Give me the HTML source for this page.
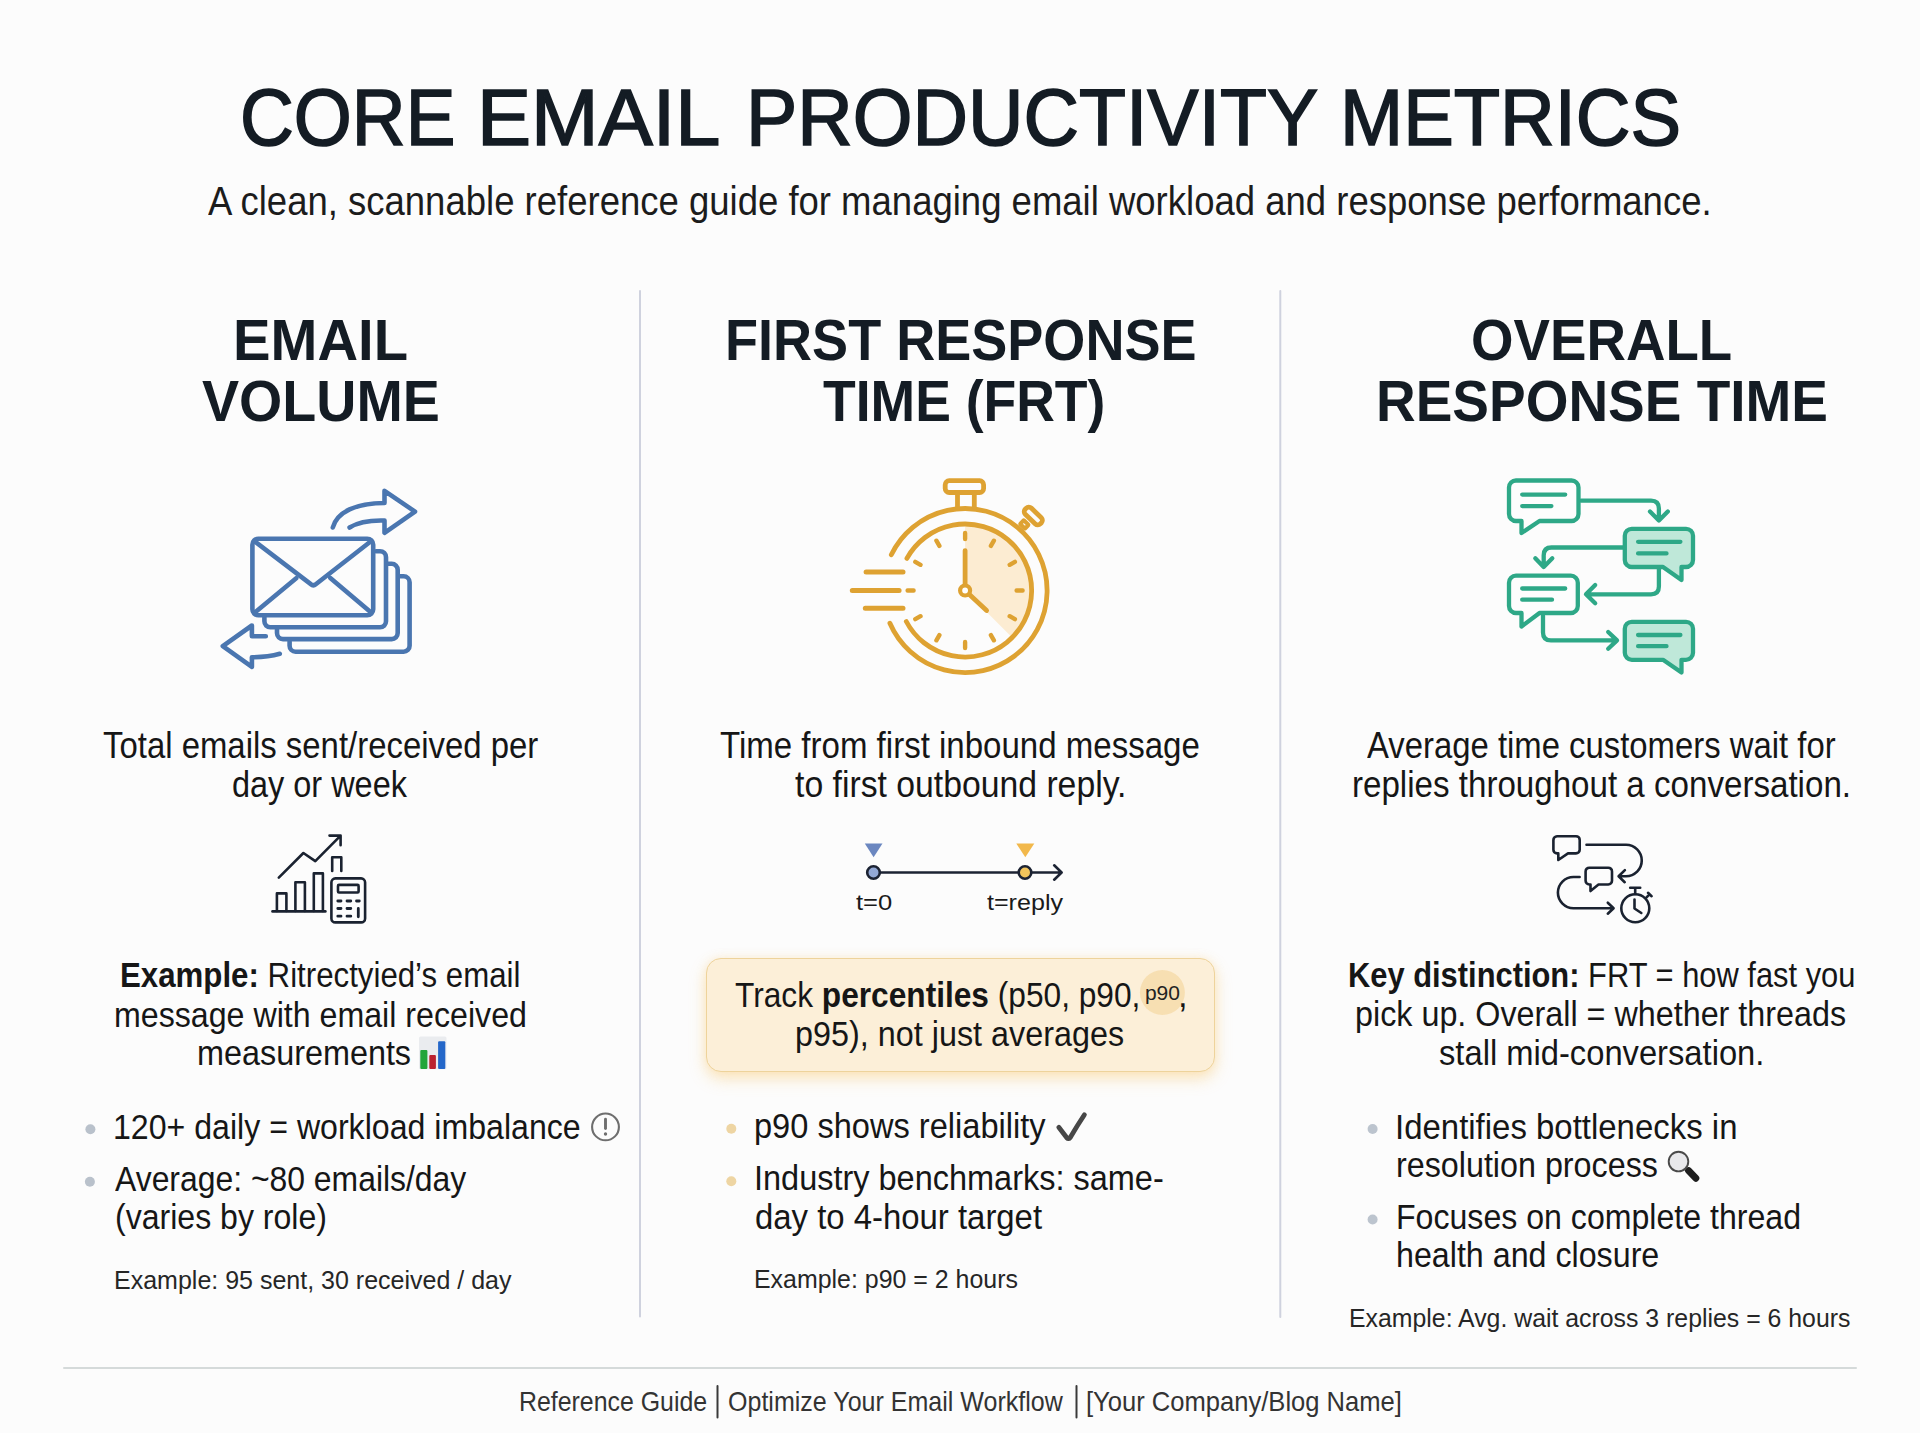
<!DOCTYPE html>
<html><head><meta charset="utf-8"><title>Core Email Productivity Metrics</title>
<style>
html,body{margin:0;padding:0;}
body{width:1920px;height:1433px;overflow:hidden;background:#fcfcfc;position:relative;font-family:"Liberation Sans",sans-serif;}
.t{position:absolute;white-space:nowrap;line-height:1;transform-origin:0 0;font-family:"Liberation Sans",sans-serif;}
.t b{font-weight:700;}
svg.ov{position:absolute;left:0;top:0;}
.box{position:absolute;left:705.5px;top:957.5px;width:509px;height:114px;box-sizing:border-box;border:1.6px solid #eed39b;border-radius:15px;background:#fcefd8;box-shadow:0 7px 16px rgba(250,200,110,0.42), 0 0 10px rgba(250,210,140,0.25);}
</style></head>
<body>
<div class="box"></div>
<svg class="ov" width="1920" height="1433" viewBox="0 0 1920 1433">
<!-- dividers -->
<g stroke-linecap="round">
<line x1="640" y1="291" x2="640" y2="1316.5" stroke="#cfd2de" stroke-width="2"/>
<line x1="1280.3" y1="291" x2="1280.3" y2="1317" stroke="#cfd2de" stroke-width="2"/>
<line x1="64" y1="1368" x2="1856" y2="1368" stroke="#d5dada" stroke-width="2"/>
<line x1="717.5" y1="1386" x2="717.5" y2="1417.5" stroke="#3a3a3a" stroke-width="2"/>
<line x1="1076.5" y1="1386" x2="1076.5" y2="1417.5" stroke="#3a3a3a" stroke-width="2"/>
</g>
<!-- email stack icon -->
<g fill="none" stroke="#4a76b0" stroke-width="4.6" stroke-linecap="round" stroke-linejoin="round">
<path d="M400.3,576.3 H403.6 A6,6 0 0 1 409.6,582.3 V645.7 A6,6 0 0 1 403.6,651.7 H295.6 A6,6 0 0 1 289.6,645.7 V641.5"/>
<path d="M388.3,563.8 H391.7 A6,6 0 0 1 397.7,569.8 V633.1 A6,6 0 0 1 391.7,639.1 H283 A6,6 0 0 1 277,633.1 V629.5"/>
<path d="M376,551.2 H380 A6,6 0 0 1 386,557.2 V621.3 A6,6 0 0 1 380,627.3 H270.4 A6,6 0 0 1 264.4,621.3 V617.5"/>
<rect x="252.4" y="538.7" width="120.8" height="76.6" rx="6" fill="#fcfcfc"/>
<path d="M255,541.5 L310.8,584.2 Q313.3,586.3 315.8,584.2 L370.6,541.5"/>
<path d="M255.5,612 L296.2,578.3 M370.5,612 L330.3,578"/>
<path d="M332.8,527.5 C337,512 356,503 384.5,503 V490.8 L415,511.6 L384.5,532.8 V520.5 C368,520 357.5,522.5 349.6,527.5"/>
<path d="M265.8,636.3 H251.9 V625.5 L222.8,646.1 L251.9,666.8 V657.3 C263,657.3 272,656 279.8,653.8"/>
</g>
<!-- stopwatch icon -->
<g fill="none" stroke="#dea232" stroke-width="4.8" stroke-linecap="round" stroke-linejoin="round">
<path d="M965.1,590.5 L965.1,524 A66.5,66.5 0 0 1 1012.1,637.5 Z" fill="#fcecd2" stroke="none"/>
<path d="M891.3,554.8 A82,82 0 1 1 889.9,623.2"/>
<path d="M906.9,558.4 A66.5,66.5 0 1 1 906.3,621.5"/>
<rect x="945.2" y="480.7" width="38.4" height="11.8" rx="4"/>
<path d="M957.5,494.5 V507.5 M974.3,494.5 V507.5"/>
<g transform="translate(1033.3,516) rotate(44)"><rect x="-10.5" y="-4.3" width="21" height="8.6" rx="3.5"/></g>
<g transform="translate(1024.3,524.4) rotate(44)"><rect x="-3.4" y="-2.6" width="6.8" height="5.2" rx="0.5" stroke-width="4"/></g>
<path d="M965.1,539.0 L965.1,533.0 M990.9,545.9 L993.9,540.7 M1009.7,564.8 L1014.9,561.8 M1016.6,590.5 L1022.6,590.5 M1009.7,616.2 L1014.9,619.2 M990.9,635.1 L993.9,640.3 M965.1,642.0 L965.1,648.0 M939.4,635.1 L936.4,640.3 M920.5,616.2 L915.3,619.2 M913.6,590.5 L907.6,590.5 M920.5,564.8 L915.3,561.8 M939.4,545.9 L936.4,540.7" stroke-width="4.4"/>
<path d="M965.1,590.5 V550.6 M965.1,590.5 L986.6,610.5"/>
<circle cx="965.1" cy="590.5" r="5" fill="#fff" stroke-width="4.2"/>
<path d="M866.1,572.1 H903 M852.3,590.5 H899.1 M865.3,608.2 H903" stroke-width="5"/>
</g>
<!-- chat flow icon -->
<g fill="none" stroke="#2ea887" stroke-width="4.3" stroke-linecap="round" stroke-linejoin="round">
<path d="M1581,500.7 H1651 Q1658.9,500.7 1658.9,508.6 V520 M1650,511.5 L1658.9,520.5 L1667.8,511.5"/>
<path d="M1622.8,547.5 H1551.5 Q1543.7,547.5 1543.7,555.3 V566.5 M1535.3,558.3 L1543.7,567 L1552.3,558.3"/>
<path d="M1658.9,569 V586.5 Q1658.9,594.3 1651,594.3 H1586 M1595.2,585.1 L1586,594.3 L1595.2,603.3"/>
<path d="M1543,615.8 V632.5 Q1543,640.4 1551,640.4 H1616.5 M1608.2,632 L1617,640.4 L1608.2,648.8"/>
<path d="M1516,480.5 H1571.5 A7,7 0 0 1 1578.5,487.5 V514 A7,7 0 0 1 1571.5,521 H1539.5 L1521.5,533 V521 H1516 A7,7 0 0 1 1509,514 V487.5 A7,7 0 0 1 1516,480.5 Z" fill="#fdfdfd"/>
<path d="M1631.8,528.8 H1686 A7,7 0 0 1 1693,535.8 V560 A7,7 0 0 1 1686,567 H1681.5 V580 L1663,567 H1631.8 A7,7 0 0 1 1624.8,560 V535.8 A7,7 0 0 1 1631.8,528.8 Z" fill="#bfe8d9"/>
<path d="M1516,575.7 H1570.8 A7,7 0 0 1 1577.8,582.7 V606 A7,7 0 0 1 1570.8,613 H1539.5 L1521.5,626.5 V613 H1516 A7,7 0 0 1 1509,606 V582.7 A7,7 0 0 1 1516,575.7 Z" fill="#fdfdfd"/>
<path d="M1631.8,621.8 H1686 A7,7 0 0 1 1693,628.8 V652.8 A7,7 0 0 1 1686,659.8 H1681.5 V672.5 L1663,659.8 H1631.8 A7,7 0 0 1 1624.8,652.8 V628.8 A7,7 0 0 1 1631.8,621.8 Z" fill="#bfe8d9"/>
<path d="M1522.2,494.6 H1565.2 M1522.2,506.1 H1551.4 M1522.2,588.5 H1565.2 M1522.2,599.7 H1552 M1638.1,541.8 H1680.4 M1638.1,553.4 H1666.5 M1638.1,635 H1680.4 M1638.1,646.2 H1666.5"/>
</g>
<!-- chart + calculator icon -->
<g fill="none" stroke="#1a2230" stroke-width="2.6" stroke-linecap="round" stroke-linejoin="round">
<path d="M272.5,911.4 H325.4"/>
<path d="M276.9,911 V893.4 H286.4 V911 M295.4,911 V882.2 H304.9 V911 M313.8,911 V873.4 H322.9 V911 M332.2,871 V857.2 H341.3 V871"/>
<rect x="331.4" y="878.4" width="33.7" height="44" rx="4"/>
<rect x="338" y="884.9" width="20.6" height="7.6" rx="1"/>
<path d="M337.8,901 H341 M347,901 H350.8 M356.5,901 H359.3 M337.8,908.5 H341 M347,908.5 H350.8 M337.8,916.2 H341 M347,916.2 H350.8 M358.3,908.5 V916.8" stroke-width="2.8"/>
<path d="M278.8,877.6 L303.4,853 L315.3,861.1 L340.6,835.6 M329.5,835.6 H340.6 V845.3"/>
</g>
<!-- chat loop + stopwatch icon -->
<g fill="none" stroke="#1a2230" stroke-width="2.6" stroke-linecap="round" stroke-linejoin="round">
<path d="M1557,836.2 H1576 A3.7,3.7 0 0 1 1579.7,839.9 V849.7 A3.7,3.7 0 0 1 1576,853.4 H1568 L1558.3,860 V853.4 H1557 A3.7,3.7 0 0 1 1553.4,849.7 V839.9 A3.7,3.7 0 0 1 1557,836.2 Z"/>
<path d="M1589.3,867.7 H1608.3 A3.7,3.7 0 0 1 1612,871.4 V880.8 A3.7,3.7 0 0 1 1608.3,884.5 H1598.5 L1590.5,891 V884.5 H1589.3 A3.7,3.7 0 0 1 1585.6,880.8 V871.4 A3.7,3.7 0 0 1 1589.3,867.7 Z"/>
<path d="M1586.5,844.8 H1626 A15.75,15.75 0 0 1 1626,876.3 H1619 M1624.9,870.1 L1618.6,876.3 L1624.7,882.2"/>
<path d="M1579.6,877 H1573.5 A15.6,15.6 0 0 0 1573.5,908.2 H1613.4 M1607.8,902.7 L1613.6,908.2 L1607.8,913.7"/>
<circle cx="1635.3" cy="908.2" r="14"/>
<path d="M1635.2,894 V888.3 M1630.2,887.8 H1640.2 M1646.3,897.6 L1649.2,894.7 M1648,892.8 L1651.6,896.2 M1634.5,899.6 V908.5 L1641.3,913"/>
</g>
<!-- timeline -->
<g stroke="#1c2333" stroke-width="2.6" stroke-linecap="round" stroke-linejoin="round">
<path d="M880,872.5 H1061.5 M1054.2,865.3 L1061.6,872.5 L1054.2,879.7" fill="none"/>
<circle cx="873.5" cy="872.5" r="6.3" fill="#93a9d6"/>
<circle cx="1025" cy="872.5" r="6.3" fill="#f2c55c"/>
</g>
<path d="M864.8,843.6 H882.5 L873.6,857.3 Z" fill="#6b87c0"/>
<path d="M1016.3,843.6 H1034.3 L1025.3,857.3 Z" fill="#f2b84b"/>
<!-- bullets -->
<g>
<circle cx="90.4" cy="1129.2" r="5" fill="#b9c1cb"/>
<circle cx="89.9" cy="1181.7" r="5" fill="#b9c1cb"/>
<circle cx="731.3" cy="1128.8" r="5" fill="#eed5a3"/>
<circle cx="731.3" cy="1181.3" r="5" fill="#eed5a3"/>
<circle cx="1372.6" cy="1129" r="5" fill="#bcc4ce"/>
<circle cx="1372.6" cy="1219.5" r="5" fill="#bcc4ce"/>
</g>
<!-- (!) icon -->
<g stroke="#6e6e6e" fill="none" stroke-width="2.1" stroke-linecap="round">
<circle cx="605.5" cy="1126.9" r="13.4"/>
<path d="M605.5,1119.3 V1128.6" stroke-width="2.9"/>
<circle cx="605.5" cy="1134" r="1.7" fill="#6e6e6e" stroke="none"/>
</g>
<!-- check -->
<path d="M1058.8,1127.3 L1066.8,1137.8 Q1068.6,1139.8 1070.4,1137.3 Q1077,1126 1084.4,1114.8" fill="none" stroke="#474747" stroke-width="4.8" stroke-linecap="round" stroke-linejoin="round"/>
<!-- magnifier -->
<g>
<line x1="1688.6" y1="1170.6" x2="1695.8" y2="1178.2" stroke="#1e1e1e" stroke-width="7" stroke-linecap="round"/>
<circle cx="1678.5" cy="1161.6" r="9.8" fill="#e8e8eb" stroke="#4a4a4a" stroke-width="1.9"/>
</g>
<!-- bar chart emoji -->
<g>
<rect x="419" y="1036.6" width="27.5" height="32.6" rx="1.5" fill="#eaecef"/>
<rect x="420.3" y="1050" width="7.1" height="19" rx="1" fill="#22a53a"/>
<rect x="429.3" y="1055" width="6.6" height="14" rx="1" fill="#bb2230"/>
<rect x="438.1" y="1041.3" width="7.2" height="27.6" rx="1" fill="#2467c9"/>
</g>
<!-- p90 bubble -->
<circle cx="1162.4" cy="992.5" r="22.5" fill="#f6d9a6" opacity="0.75"/>
<text x="1162.4" y="1000" text-anchor="middle" font-family="Liberation Sans" font-size="21" fill="#222">p90</text>
</svg>

<div class="t" id="title1" style="left:239.52px;top:78.11px;font-size:79px;color:#141c24;transform:scaleX(0.9438);-webkit-text-stroke:1.6px #141c24;">CORE</div>
<div class="t" id="title2" style="left:477.24px;top:78.11px;font-size:79px;color:#141c24;transform:scaleX(1.0264);-webkit-text-stroke:1.6px #141c24;">EMAIL</div>
<div class="t" id="title3" style="left:745.56px;top:78.11px;font-size:79px;color:#141c24;transform:scaleX(0.9729);-webkit-text-stroke:1.6px #141c24;">PRODUCTIVITY</div>
<div class="t" id="title4" style="left:1339.74px;top:78.11px;font-size:79px;color:#141c24;transform:scaleX(0.9596);-webkit-text-stroke:1.6px #141c24;">METRICS</div>
<div class="t" id="sub" style="left:208.00px;top:181.29px;font-size:41px;color:#1c1c1c;transform:scaleX(0.8903);">A clean, scannable reference guide for managing email workload and response performance.</div>
<div class="t" id="h1a" style="left:233.09px;top:310.78px;font-size:58px;color:#141c24;font-weight:700;transform:scaleX(0.9699);">EMAIL</div>
<div class="t" id="h1b" style="left:201.50px;top:372.38px;font-size:58px;color:#141c24;font-weight:700;transform:scaleX(0.9589);">VOLUME</div>
<div class="t" id="h2a" style="left:724.90px;top:311.08px;font-size:58px;color:#141c24;font-weight:700;transform:scaleX(0.9320);">FIRST RESPONSE</div>
<div class="t" id="h2b" style="left:822.50px;top:372.18px;font-size:58px;color:#141c24;font-weight:700;transform:scaleX(0.9226);">TIME (FRT)</div>
<div class="t" id="h3a" style="left:1470.61px;top:311.18px;font-size:58px;color:#141c24;font-weight:700;transform:scaleX(0.9427);">OVERALL</div>
<div class="t" id="h3b" style="left:1375.91px;top:372.18px;font-size:58px;color:#141c24;font-weight:700;transform:scaleX(0.9475);">RESPONSE TIME</div>
<div class="t" id="d1a" style="left:103.20px;top:728.00px;font-size:36px;color:#161616;transform:scaleX(0.9140);">Total emails sent/received per</div>
<div class="t" id="d1b" style="left:232.10px;top:766.70px;font-size:36px;color:#161616;transform:scaleX(0.9011);">day or week</div>
<div class="t" id="d2a" style="left:720.30px;top:728.00px;font-size:36px;color:#161616;transform:scaleX(0.9177);">Time from first inbound message</div>
<div class="t" id="d2b" style="left:795.30px;top:766.70px;font-size:36px;color:#161616;transform:scaleX(0.9374);">to first outbound reply.</div>
<div class="t" id="d3a" style="left:1367.10px;top:728.20px;font-size:36px;color:#161616;transform:scaleX(0.9125);">Average time customers wait for</div>
<div class="t" id="d3b" style="left:1351.66px;top:766.70px;font-size:36px;color:#161616;transform:scaleX(0.9201);">replies throughout a conversation.</div>
<div class="t" id="e1a" style="left:119.99px;top:958.36px;font-size:34.5px;color:#161616;transform:scaleX(0.9054);"><b>Example:</b> Ritrectyied’s email</div>
<div class="t" id="e1b" style="left:114.14px;top:998.16px;font-size:34.5px;color:#161616;transform:scaleX(0.9322);">message with email received</div>
<div class="t" id="e1c" style="left:196.62px;top:1035.76px;font-size:34.5px;color:#161616;transform:scaleX(0.9381);">measurements</div>
<div class="t" id="b2a" style="left:735.00px;top:978.46px;font-size:34.5px;color:#161616;transform:scaleX(0.9178);">Track <b>percentiles</b> (p50, p90, </div>
<div class="t" id="b2a2" style="left:1178.00px;top:978.46px;font-size:34.5px;color:#161616;transform:scaleX(1.0000);">,</div>
<div class="t" id="b2b" style="left:795.02px;top:1016.76px;font-size:34.5px;color:#161616;transform:scaleX(0.9378);">p95), not just averages</div>
<div class="t" id="k3a" style="left:1347.91px;top:958.26px;font-size:34.5px;color:#161616;transform:scaleX(0.8946);"><b>Key distinction:</b> FRT = how fast you</div>
<div class="t" id="k3b" style="left:1355.23px;top:996.96px;font-size:34.5px;color:#161616;transform:scaleX(0.9363);">pick up. Overall = whether threads</div>
<div class="t" id="k3c" style="left:1439.40px;top:1035.56px;font-size:34.5px;color:#161616;transform:scaleX(0.9480);">stall mid-conversation.</div>
<div class="t" id="l1a" style="left:113.39px;top:1109.52px;font-size:35.5px;color:#161616;transform:scaleX(0.9045);">120+ daily = workload imbalance</div>
<div class="t" id="l1b" style="left:115.20px;top:1162.02px;font-size:35.5px;color:#161616;transform:scaleX(0.8982);">Average: ~80 emails/day</div>
<div class="t" id="l1c" style="left:114.89px;top:1199.92px;font-size:35.5px;color:#161616;transform:scaleX(0.9029);">(varies by role)</div>
<div class="t" id="l2a" style="left:754.41px;top:1109.02px;font-size:35.5px;color:#161616;transform:scaleX(0.9179);">p90 shows reliability</div>
<div class="t" id="l2b" style="left:753.51px;top:1161.42px;font-size:35.5px;color:#161616;transform:scaleX(0.9149);">Industry benchmarks: same-</div>
<div class="t" id="l2c" style="left:755.32px;top:1200.12px;font-size:35.5px;color:#161616;transform:scaleX(0.9265);">day to 4-hour target</div>
<div class="t" id="l3a" style="left:1395.22px;top:1109.62px;font-size:35.5px;color:#161616;transform:scaleX(0.9281);">Identifies bottlenecks in</div>
<div class="t" id="l3b" style="left:1396.18px;top:1148.22px;font-size:35.5px;color:#161616;transform:scaleX(0.9091);">resolution process</div>
<div class="t" id="l3c" style="left:1396.19px;top:1199.82px;font-size:35.5px;color:#161616;transform:scaleX(0.9041);">Focuses on complete thread</div>
<div class="t" id="l3d" style="left:1396.18px;top:1237.92px;font-size:35.5px;color:#161616;transform:scaleX(0.9075);">health and closure</div>
<div class="t" id="x1" style="left:114.14px;top:1268.14px;font-size:25.5px;color:#262626;transform:scaleX(0.9806);">Example: 95 sent, 30 received / day</div>
<div class="t" id="x2" style="left:754.30px;top:1267.34px;font-size:25.5px;color:#262626;transform:scaleX(0.9774);">Example: p90 = 2 hours</div>
<div class="t" id="x3" style="left:1348.55px;top:1306.24px;font-size:25.5px;color:#262626;transform:scaleX(0.9741);">Example: Avg. wait across 3 replies = 6 hours</div>
<div class="t" id="f1" style="left:518.92px;top:1387.93px;font-size:28px;color:#333333;transform:scaleX(0.8885);">Reference Guide</div>
<div class="t" id="f2" style="left:727.61px;top:1387.93px;font-size:28px;color:#333333;transform:scaleX(0.8938);">Optimize Your Email Workflow</div>
<div class="t" id="f3" style="left:1085.67px;top:1387.93px;font-size:28px;color:#333333;transform:scaleX(0.9128);">[Your Company/Blog Name]</div>
<div class="t" id="t0" style="left:855.60px;top:891.66px;font-size:22.5px;color:#1a1a1a;transform:scaleX(1.1357);">t=0</div>
<div class="t" id="t1" style="left:986.90px;top:891.66px;font-size:22.5px;color:#1a1a1a;transform:scaleX(1.1152);">t=reply</div>
</body></html>
